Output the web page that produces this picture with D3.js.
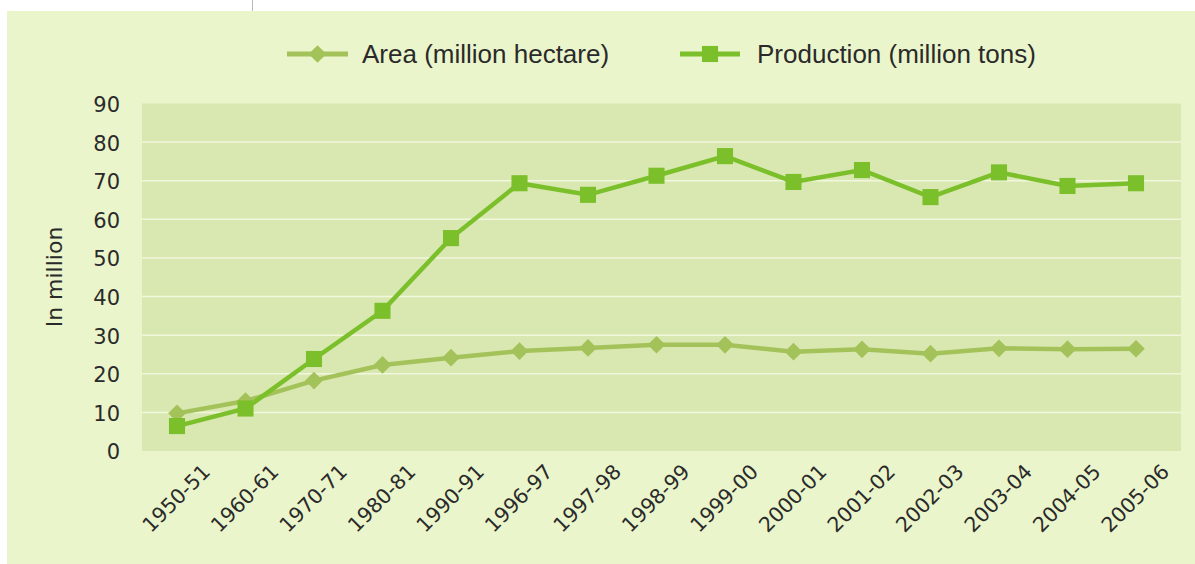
<!DOCTYPE html>
<html><head><meta charset="utf-8">
<script src="https://cdn.jsdelivr.net/npm/d3@7"></script>
<style>html,body{margin:0;padding:0;background:#fff;}svg{display:block;}</style>
</head><body>
<svg id="chart" width="1195" height="564"></svg>
<script>
const categories = ["1950-51","1960-61","1970-71","1980-81","1990-91","1996-97","1997-98","1998-99","1999-00","2000-01","2001-02","2002-03","2003-04","2004-05","2005-06"];
const areaValues = [9.75,12.93,18.24,22.28,24.17,25.89,26.70,27.52,27.49,25.73,26.34,25.20,26.59,26.38,26.48];
const productionValues = [6.46,11.00,23.83,36.31,55.14,69.35,66.35,71.29,76.37,69.68,72.77,65.76,72.16,68.64,69.35];
const yTicks = [0,10,20,30,40,50,60,70,80,90];
const seriesNames = ["Area (million hectare)","Production (million tons)"];
const yTitle = "In million";

const svg = d3.select("#chart");
const W = 1195, H = 564;
const plot = {left:142, right:1181, top:103.5, bottom:451};
const cArea = "#a4c25a", cProd = "#7bbf2a";

// outer background
svg.append("rect").attr("x",7).attr("y",11).attr("width",W-7).attr("height",H-11).attr("fill","#eaf5cb");
svg.append("line").attr("x1",252.5).attr("x2",252.5).attr("y1",0).attr("y2",11).attr("stroke","#b8b8b8").attr("stroke-width",1);

// plot background
svg.append("rect").attr("x",plot.left).attr("y",plot.top).attr("width",plot.right-plot.left).attr("height",plot.bottom-plot.top).attr("fill","#d9e8b1");

const x = d3.scalePoint().domain(categories).range([177,1136]);
const y = d3.scaleLinear().domain([0,90]).range([plot.bottom,plot.top]);

// gridlines
svg.append("g").selectAll("line").data(yTicks.filter(t=>t>0 && t<90)).join("line")
  .attr("x1",plot.left).attr("x2",plot.right)
  .attr("y1",d=>y(d)).attr("y2",d=>y(d))
  .attr("stroke","#f1f7de").attr("stroke-width",1.5);

// y axis
const yAxis = svg.append("g").attr("transform",`translate(${plot.left},0)`)
  .call(d3.axisLeft(y).tickValues(yTicks).tickSize(0).tickPadding(22));
yAxis.select(".domain").remove();
yAxis.selectAll("text").attr("font-family","DejaVu Sans, sans-serif").attr("font-size",21).attr("fill","#2a2a2a").attr("dy","0.38em");

// y title
svg.append("text").attr("transform","translate(62,277) rotate(-90)")
  .attr("text-anchor","middle").attr("font-family","DejaVu Sans, sans-serif").attr("font-size",22).attr("fill","#2a2a2a").text(yTitle);

// x axis
const xAxis = svg.append("g").attr("transform",`translate(0,${plot.bottom})`)
  .call(d3.axisBottom(x).tickSize(0).tickPadding(0));
xAxis.select(".domain").remove();
xAxis.selectAll("text")
  .attr("font-family","DejaVu Sans, sans-serif").attr("font-size",20.5).attr("fill","#2a2a2a")
  .attr("text-anchor","end").attr("dy",0).attr("y",0)
  .attr("transform","translate(34,22) rotate(-45)");

// lines
const line = d3.line().x((d,i)=>x(categories[i])).y(d=>y(d));
svg.append("path").datum(areaValues).attr("d",line).attr("fill","none").attr("stroke",cArea).attr("stroke-width",4.5);
svg.append("path").datum(productionValues).attr("d",line).attr("fill","none").attr("stroke",cProd).attr("stroke-width",4.5);

const diamond = d3.symbol().type(d3.symbolDiamond2).size(200);
const square = d3.symbol().type(d3.symbolSquare2).size(330);

svg.append("g").selectAll("path").data(areaValues).join("path")
  .attr("d",diamond).attr("fill",cArea)
  .attr("transform",(d,i)=>`translate(${x(categories[i])},${y(d)})`);
svg.append("g").selectAll("path").data(productionValues).join("path")
  .attr("d",square).attr("fill",cProd)
  .attr("transform",(d,i)=>`translate(${x(categories[i])},${y(d)})`);

// legend
const leg = [
  {name:seriesNames[0], color:cArea, sym:diamond, x1:287, x2:348, tx:362},
  {name:seriesNames[1], color:cProd, sym:square, x1:680, x2:740, tx:757}
];
const ly = 54;
leg.forEach(l=>{
  svg.append("line").attr("x1",l.x1).attr("x2",l.x2).attr("y1",ly).attr("y2",ly).attr("stroke",l.color).attr("stroke-width",5);
  svg.append("path").attr("d",l.sym).attr("fill",l.color).attr("transform",`translate(${(l.x1+l.x2)/2},${ly})`);
  svg.append("text").attr("x",l.tx).attr("y",ly).attr("dy","0.36em")
    .attr("font-family","Liberation Sans, Arial, sans-serif").attr("font-size",26).attr("fill","#2a2a2a").text(l.name);
});
</script>
</body></html>
